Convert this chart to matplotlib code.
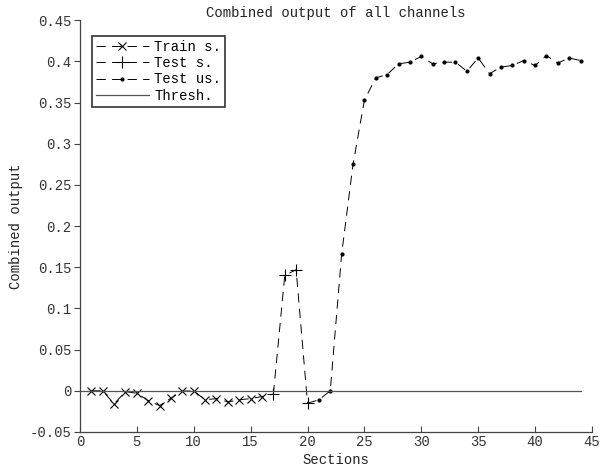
import numpy as np
import matplotlib
matplotlib.use('Agg')
import matplotlib.pyplot as plt

plt.rcParams['font.family'] = ['Liberation Mono', 'DejaVu Sans Mono']
plt.rcParams['font.size'] = 10

# data
train_x = np.arange(1, 18)
train_y = [0.0, 0.0, -0.016, -0.001, -0.003, -0.012, -0.018, -0.009, -0.0005,
           0.0, -0.011, -0.0095, -0.0135, -0.011, -0.0095, -0.007, -0.004]
test_x = np.arange(17, 21)
test_y = [-0.004, 0.140, 0.147, -0.015]
test_us_x = np.arange(20, 45)
test_us_y = [-0.015, -0.011, 0.0, 0.166, 0.275, 0.353, 0.380, 0.384, 0.397,
             0.399, 0.406, 0.397, 0.399, 0.399, 0.388, 0.404, 0.385, 0.393,
             0.395, 0.401, 0.395, 0.407, 0.398, 0.404, 0.401]
thresh_x = [0, 44]
thresh_y = [0, 0]

fig = plt.figure(figsize=(6.01, 4.69), dpi=100)
ax = fig.add_axes([0.133, 0.079, 0.852, 0.878])

dash = (0, (9.5, 6.5))
ax.plot(train_x, train_y, ls=dash, color='k', lw=0.7, marker='x', ms=6,
        mew=0.8, markevery=range(0, 16), label='Train s.')
ax.plot(test_x, test_y, ls=dash, color='k', lw=0.7, marker='+', ms=8,
        mew=0.8, label='Test s.')
ax.plot(test_us_x, test_us_y, ls=dash, color='k', lw=0.7, marker='.', ms=4,
        markevery=range(1, 25), label='Test us.')
ax.plot(thresh_x, thresh_y, ls='-', color='#555555', lw=0.9, label='Thresh.')

ax.set_xlim(0, 45)
ax.set_ylim(-0.05, 0.45)
ax.set_xticks(np.arange(0, 46, 5))
ax.set_yticks(np.arange(-0.05, 0.451, 0.05))
ax.set_yticklabels(['-0.05', '0', '0.05', '0.1', '0.15', '0.2', '0.25',
                    '0.3', '0.35', '0.4', '0.45'])

for s in ['top', 'right']:
    ax.spines[s].set_visible(False)
for s in ['left', 'bottom']:
    ax.spines[s].set_color('#444444')
    ax.spines[s].set_linewidth(0.9)
ax.tick_params(axis='x', direction='in', length=4, colors='#444444',
               labelcolor='#333333', pad=2)
ax.tick_params(axis='y', direction='out', length=4, colors='#444444',
               labelcolor='#333333', pad=2)

ax.set_title('Combined output of all channels', fontsize=10, pad=1,
             color='#222222')
ax.set_xlabel('Sections', labelpad=3, color='#222222')
ax.set_ylabel('Combined output', labelpad=5, color='#222222')

leg = ax.legend(loc='upper left', bbox_to_anchor=(0.023, 0.962),
                frameon=True, fancybox=False, borderpad=0.3,
                handlelength=3.8, handletextpad=0.4, labelspacing=0.16,
                borderaxespad=0)
leg.get_frame().set_edgecolor('k')
leg.get_frame().set_linewidth(1.2)

fig.savefig('out.png', dpi=100)
